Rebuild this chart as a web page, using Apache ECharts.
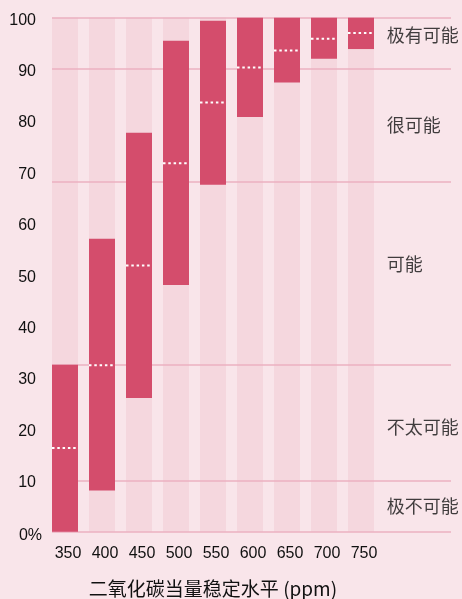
<!DOCTYPE html>
<html>
<head>
<meta charset="utf-8">
<style>
  html, body { margin: 0; padding: 0; background: #f9e5ea; }
  #main { width: 462px; height: 599px; }
</style>
<script src="https://cdn.jsdelivr.net/npm/echarts@6/dist/echarts.min.js"></script>
</head>
<body>
<div id="main"></div>
<script>
// 二氧化碳当量稳定水平 (ppm)
var categories = ['350', '400', '450', '500', '550', '600', '650', '700', '750'];
// 概率范围：下限、上限、中值
var lowValues = [0, 8, 26, 48, 67.5, 80.7, 87.4, 92, 93.9];
var highValues = [32.5, 57, 77.6, 95.5, 99.4, 100, 100, 100, 100];
var midValues = [16.3, 32.4, 51.8, 71.7, 83.5, 90.3, 93.6, 95.9, 97];
// 可能性分区的界线与标签
var zoneLines = [0, 10, 32.5, 68, 90, 100];
var zoneNames = ['极有可能', '很可能', '可能', '不太可能', '极不可能'];
var zoneNameY = [96.6, 79.1, 52, 20.4, 4.9];
var zoneNameX = 0.839;

var myChart = echarts.init(document.getElementById('main'));

var spans = highValues.map(function (v, i) { return +(v - lowValues[i]).toFixed(2); });
var zoneData = zoneNames.map(function (n, i) { return { name: n, value: [zoneNameX, zoneNameY[i]] }; });

var option = {
  backgroundColor: '#f9e5ea',
  animation: false,
  grid: [
    { left: 46.5, right: 82.5, top: 17.7, bottom: 67.3, outerBoundsMode: 'none', containLabel: false },
    { left: 52, right: 11, top: 17.7, bottom: 67.3, outerBoundsMode: 'none', containLabel: false }
  ],
  xAxis: [
    {
      gridIndex: 0,
      type: 'category',
      data: categories,
      axisLine: { show: false },
      axisTick: { show: false },
      axisLabel: {
        color: '#111',
        fontSize: 16,
        fontFamily: 'Liberation Sans',
        margin: 14,
        padding: [0, 0, 0, 6]
      },
      name: '二氧化碳当量稳定水平 (ppm)',
      nameLocation: 'middle',
      nameGap: 48,
      nameTextStyle: { color: '#111', fontSize: 19, fontFamily: 'Noto Sans CJK SC' }
    },
    {
      gridIndex: 1,
      type: 'value',
      min: 0,
      max: 1,
      show: false
    }
  ],
  yAxis: [
    {
      gridIndex: 0,
      type: 'value',
      min: 0,
      max: 100,
      show: false
    },
    {
      gridIndex: 1,
      type: 'value',
      min: 0,
      max: 100,
      interval: 10,
      axisLine: { show: false },
      axisTick: { show: false },
      splitLine: { show: false },
      axisLabel: {
        color: '#111',
        fontSize: 16,
        fontFamily: 'Liberation Sans',
        margin: 16,
        padding: [5, 0, 0, 0],
        formatter: function (v) { return v === 0 ? '{z|0%}' : v; },
        rich: {
          z: { color: '#111', fontSize: 16, fontFamily: 'Liberation Sans', padding: [3, -6, 0, 0] }
        }
      }
    }
  ],
  series: [
    {
      // 透明底座 + 背景色条
      type: 'bar',
      xAxisIndex: 0,
      yAxisIndex: 0,
      stack: 'range',
      barWidth: 26,
      z: 1,
      itemStyle: { color: 'rgba(0,0,0,0)' },
      showBackground: true,
      backgroundStyle: { color: '#f5d7de' },
      data: lowValues
    },
    {
      type: 'bar',
      xAxisIndex: 0,
      yAxisIndex: 0,
      stack: 'range',
      barWidth: 26,
      z: 10,
      itemStyle: { color: '#d44d6c' },
      data: spans
    },
    {
      // 中值虚线
      type: 'custom',
      xAxisIndex: 0,
      yAxisIndex: 0,
      z: 11,
      data: midValues.map(function (v, i) { return [i, v]; }),
      renderItem: function (params, api) {
        var p = api.coord([api.value(0), api.value(1)]);
        var w = 26;
        return {
          type: 'line',
          shape: { x1: p[0] - w / 2, y1: p[1], x2: p[0] + w / 2, y2: p[1] },
          style: { stroke: '#ffffff', lineWidth: 2, lineDash: [2.5, 2.8] }
        };
      }
    },
    {
      // 分区线与分区名称
      type: 'scatter',
      xAxisIndex: 1,
      yAxisIndex: 1,
      z: 2,
      symbolSize: 0,
      data: zoneData,
      label: {
        show: true,
        position: 'right',
        distance: 0,
        formatter: '{b}',
        color: '#111',
        fontSize: 18,
        fontFamily: 'Noto Sans CJK SC'
      },
      markLine: {
        silent: true,
        z: 2,
        symbol: 'none',
        label: { show: false },
        lineStyle: { color: '#ebb1c0', width: 1.5, type: 'solid' },
        data: zoneLines.map(function (v) { return { yAxis: v }; })
      }
    }
  ]
};

myChart.setOption(option);
</script>
</body>
</html>
